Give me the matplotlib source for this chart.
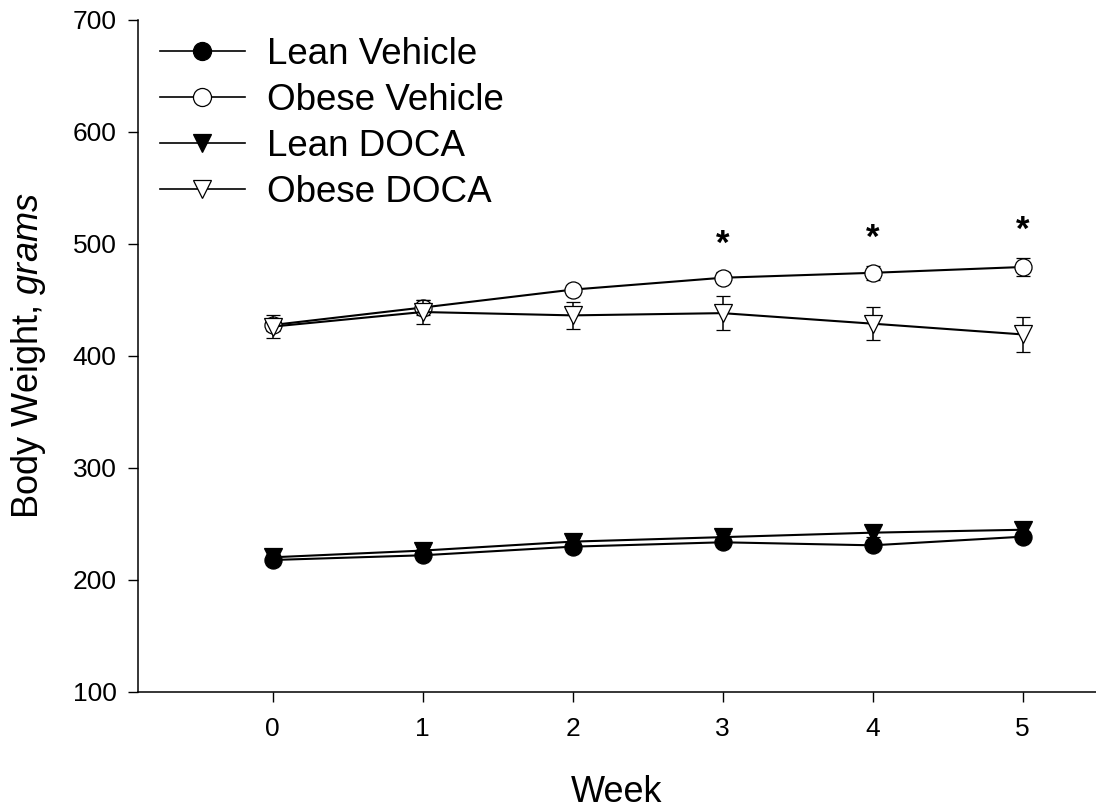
import matplotlib
matplotlib.use('Agg')
import matplotlib.pyplot as plt
from matplotlib.lines import Line2D

plt.rcParams['font.family'] = ['Liberation Sans', 'DejaVu Sans']
plt.rcParams['mathtext.fontset'] = 'custom'
plt.rcParams['mathtext.rm'] = 'Liberation Sans'
plt.rcParams['mathtext.it'] = 'Liberation Sans:italic'

# data
weeks = [0, 1, 2, 3, 4, 5]

lean_vehicle = [217.6, 221.8, 229.5, 233.4, 230.7, 238.4]
lean_vehicle_err = [3, 3, 3, 3, 4, 4]

obese_vehicle = [427.4, 443, 459, 469.6, 474, 479.2]
obese_vehicle_err = [5, 7, 4, 5, 6, 8]

lean_doca = [220, 226, 234, 238, 242, 244.6]
lean_doca_err = [3, 3, 3, 3, 4, 4]

obese_doca = [426, 439, 436, 438, 428.6, 419]
obese_doca_err = [10, 11, 12, 15, 15, 15.5]

star_weeks = [3, 4, 5]

series = [
    ('Lean Vehicle', lean_vehicle, lean_vehicle_err, 'o', 'black'),
    ('Obese Vehicle', obese_vehicle, obese_vehicle_err, 'o', 'white'),
    ('Lean DOCA', lean_doca, lean_doca_err, 'v', 'black'),
    ('Obese DOCA', obese_doca, obese_doca_err, 'v', 'white'),
]

fig = plt.figure(figsize=(10.96, 8.10), dpi=100)
ax = fig.add_axes([138 / 1096, (810 - 691.7) / 810, (1096 - 138) / 1096, (691.7 - 19.7) / 810])

handles = []
for i, (name, vals, err, mk, fc) in enumerate(series):
    ax.errorbar(weeks, vals, yerr=err, color='black', lw=1.5, marker=mk,
                markersize=12.3, markerfacecolor=fc, markeredgecolor='black',
                markeredgewidth=0.9, elinewidth=1.1, capsize=5, capthick=1.1,
                zorder=3 + i)
    handles.append(Line2D([], [], color='black', lw=1.2, marker=mk, markersize=13,
                          markerfacecolor=fc, markeredgecolor='black',
                          markeredgewidth=0.9, label=name))

# significance stars over obese vehicle
for w in star_weeks:
    top = obese_vehicle[w] + obese_vehicle_err[w]
    ax.annotate('*', xy=(w, top), xytext=(0, 13), textcoords='offset points',
                ha='center', va='baseline', fontsize=25, fontweight='bold')

ax.set_xlim(-0.898, 5.49)
ax.set_ylim(100, 700)
ax.set_xticks(weeks)
ax.set_yticks(range(100, 701, 100))
ax.spines['top'].set_visible(False)
ax.spines['right'].set_visible(False)
for s in ['left', 'bottom']:
    ax.spines[s].set_linewidth(1.1)
ax.tick_params(axis='both', direction='out', length=7, width=1.0, labelsize=19)
ax.tick_params(axis='x', pad=11)
ax.tick_params(axis='y', pad=8.5)

ax.set_xlabel('Week', fontsize=26)
ax.xaxis.set_label_coords(0.5, -0.124)
ax.set_ylabel(r'Body Weight, $\mathit{grams}$', fontsize=26)
ax.yaxis.set_label_coords(-0.094, 0.5)

ax.legend(handles=handles, loc='upper left', bbox_to_anchor=(0.023, 0.974),
          frameon=False, fontsize=26.5, handlelength=2.3, handletextpad=0.6,
          labelspacing=0.30, borderpad=0, borderaxespad=0)

fig.savefig('out.png', dpi=100)
